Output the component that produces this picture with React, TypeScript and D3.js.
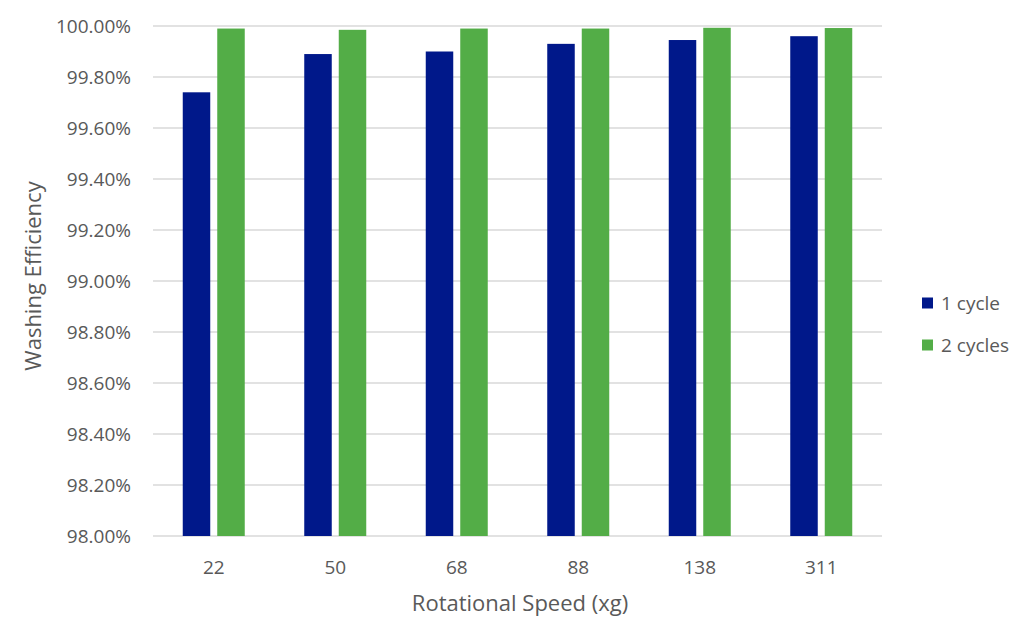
import React from "react";
import * as d3 from "d3";

const categories = ["22", "50", "68", "88", "138", "311"];
const oneCycle = [99.74, 99.89, 99.9, 99.93, 99.945, 99.96];
const twoCycles = [99.99, 99.985, 99.99, 99.99, 99.993, 99.992];
const seriesNames = ["1 cycle", "2 cycles"];
const seriesColors = ["#00188A", "#53AD47"];
const yTicks = [98.0, 98.2, 98.4, 98.6, 98.8, 99.0, 99.2, 99.4, 99.6, 99.8, 100.0];

export default function App() {
  const W = 1025, H = 622;
  const left = 153, right = 882, top = 26, bottom = 536;
  const y = d3.scaleLinear().domain([98, 100]).range([bottom, top]);
  const x = d3.scaleBand<string>().domain(categories).range([left, right]);
  const barW = 27.5, gap = 7;
  const font = "'Open Sans', sans-serif";
  const textColor = "#595959";
  const tickSize = 19;
  const titleSize = 22;
  const series = [oneCycle, twoCycles];
  return (
    <svg width={W} height={H} style={{ position: "absolute", left: 0, top: 0 }} fontFamily={font}>
      <rect width={W} height={H} fill="#fff" />
      {yTicks.map((t) => (
        <g key={t}>
          <line x1={left} x2={right} y1={y(t)} y2={y(t)} stroke="#D9D9D9" strokeWidth={1.3} />
          <text x={131} y={y(t)} dy="0.35em" textAnchor="end" fontSize={tickSize} fill={textColor}>
            {t.toFixed(2)}%
          </text>
        </g>
      ))}
      {categories.map((c, i) => {
        const cx = (x(c) as number) + x.bandwidth() / 2;
        return (
          <g key={c}>
            {series.map((s, j) => {
              const bx = j === 0 ? cx - gap / 2 - barW : cx + gap / 2;
              return (
                <rect key={j} x={bx} y={y(s[i])} width={barW} height={y(98) - y(s[i])} fill={seriesColors[j]} />
              );
            })}
            <text x={cx} y={567} dy="0.35em" textAnchor="middle" fontSize={tickSize} fill={textColor}>
              {c}
            </text>
          </g>
        );
      })}
      <text x={520} y={603} dy="0.35em" textAnchor="middle" fontSize={titleSize} fill={textColor}>
        Rotational Speed (xg)
      </text>
      <text transform={`translate(33,276) rotate(-90)`} dy="0.35em" textAnchor="middle" fontSize={titleSize} fill={textColor}>
        Washing Efficiency
      </text>
      {seriesNames.map((n, j) => (
        <g key={n} transform={`translate(922, ${303 + j * 42})`}>
          <rect x={0} y={-5.5} width={11} height={11} fill={seriesColors[j]} />
          <text x={19} y={0} dy="0.35em" fontSize={tickSize} fill={textColor}>
            {n}
          </text>
        </g>
      ))}
    </svg>
  );
}
